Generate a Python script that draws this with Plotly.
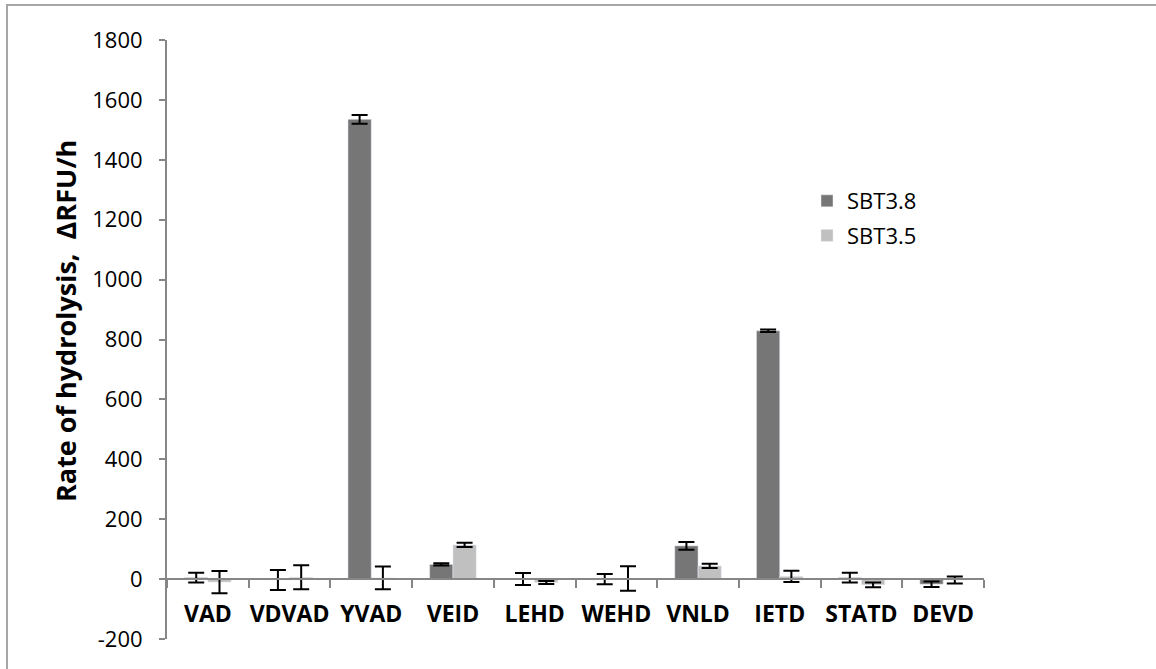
import plotly.graph_objects as go

categories = ["VAD", "VDVAD", "YVAD", "VEID", "LEHD", "WEHD", "VNLD", "IETD", "STATD", "DEVD"]
sbt38 = [5, -3, 1535, 49, 0, 0, 111, 829, 5, -17]
sbt38_err = [16, 33, 15, 4, 20, 17, 13, 4, 16, 9]
sbt35 = [-10, 6, 4, 114, -11, 2, 44, 9, -19, -3]
sbt35_err = [37, 40, 38, 7, 5, 41, 7, 19, 8, 12]
y_ticks = [-200, 0, 200, 400, 600, 800, 1000, 1200, 1400, 1600, 1800]
y_ticklabels = [str(v) for v in y_ticks]

W, H = 1156, 669
ML, MR, MT, MB = 167, 172, 40, 30
PW, PH = W - ML - MR, H - MT - MB
FONT = "Open Sans"

fig = go.Figure()
fig.add_trace(go.Bar(
    x=categories, y=sbt38, name="SBT3.8", marker_color="#767676",
    legendgroup="a",
    error_y=dict(type="data", array=sbt38_err, color="black", thickness=2, width=8),
))
fig.add_trace(go.Bar(
    x=categories, y=sbt35, name="SBT3.5", marker_color="#c0c0c0",
    legendgroup="b",
    error_y=dict(type="data", array=sbt35_err, color="black", thickness=2, width=8),
))

ymin, ymax = y_ticks[0], y_ticks[-1]
zero_pos = (0 - ymin) / (ymax - ymin)

fig.update_layout(
    width=W, height=H,
    margin=dict(l=ML, r=MR, t=MT, b=MB),
    paper_bgcolor="white", plot_bgcolor="white",
    barmode="group", bargap=0.43, bargroupgap=0,
    font=dict(family=FONT, size=22, color="black"),
    showlegend=True,
    legend=dict(x=(807 - ML) / PW, y=1 - (180 - MT) / PH, xanchor="left", yanchor="top",
                font=dict(size=22), tracegroupgap=3, bgcolor="rgba(0,0,0,0)"),
    xaxis=dict(
        type="category", anchor="free", position=zero_pos,
        showline=True, linecolor="#868686", linewidth=2,
        ticks="outside", tickson="boundaries", ticklen=8, tickcolor="#868686", tickwidth=2,
        tickfont=dict(family=FONT, size=23, color="black", weight="bold"),
        tickangle=0,
        showgrid=False, zeroline=False, range=[-0.5, len(categories) - 0.5],
        ticklabelstandoff=14,
    ),
    yaxis=dict(
        range=[ymin, ymax], tickvals=y_ticks, ticktext=y_ticklabels,
        showline=True, linecolor="#868686", linewidth=2,
        ticks="outside", ticklen=6, tickcolor="#868686", tickwidth=2,
        showgrid=False, zeroline=False,
        tickfont=dict(family=FONT, size=22, color="black"),
        ticklabelstandoff=12,
    ),
    annotations=[dict(
        text="<b>Rate of hydrolysis,  \u0394RFU/h</b>", textangle=-90,
        xref="paper", yref="paper",
        x=(65 - ML) / PW, y=1 - (321 - MT) / PH,
        xanchor="center", yanchor="middle", showarrow=False,
        font=dict(family=FONT, size=27, color="black"),
    )],
    shapes=[dict(
        type="rect", xref="paper", yref="paper",
        x0=(7 - ML) / PW, x1=(W + 20 - ML) / PW,
        y0=1 - (H + 20 - MT) / PH, y1=1 + (MT - 5) / PH,
        line=dict(color="#a6a6a6", width=2), fillcolor="rgba(0,0,0,0)", layer="below",
    )],
)

fig.write_html("out.html")
